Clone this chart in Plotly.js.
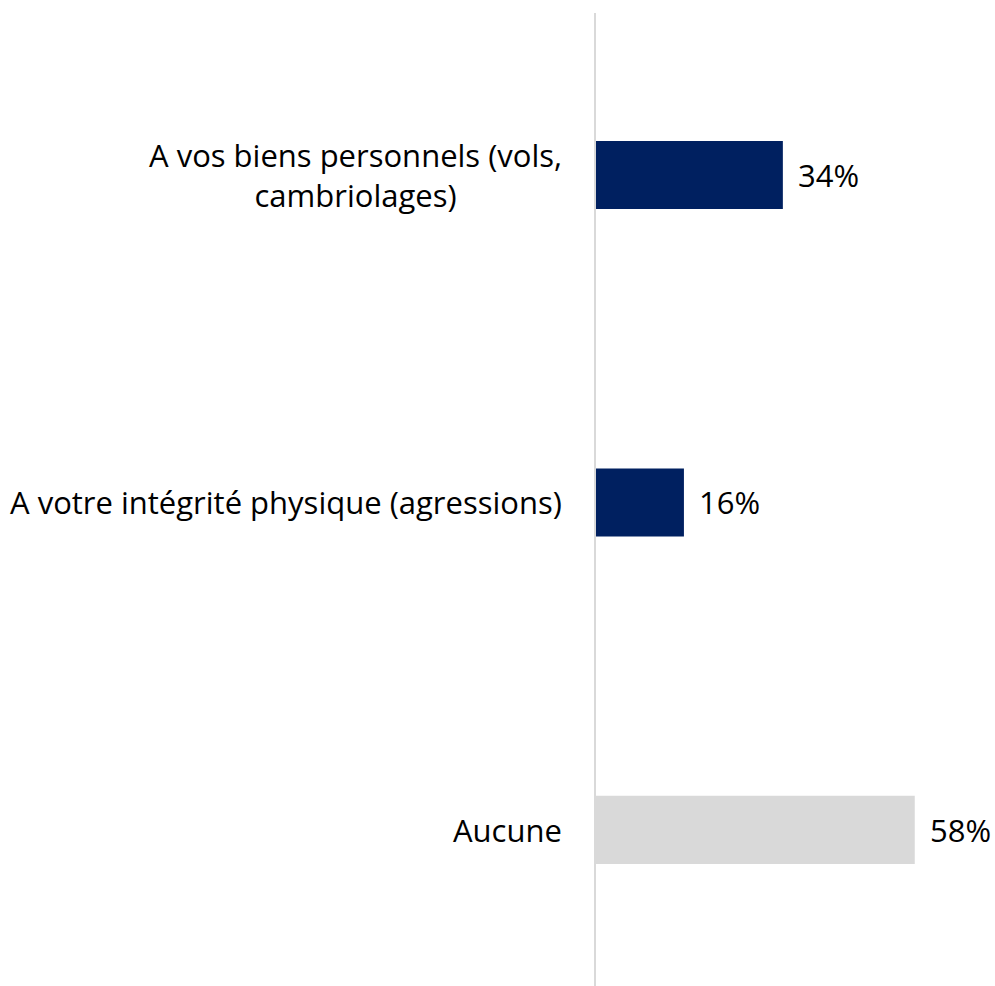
<!DOCTYPE html>
<html>
<head>
<meta charset="utf-8">
<script src="https://cdn.plot.ly/plotly-3.0.1.min.js"></script>
<style>html,body{margin:0;padding:0;background:#fff;}#chart{width:995px;height:986px;}</style>
</head>
<body>
<div id="chart"></div>
<script>
const categories = ["A vos biens personnels (vols,<br>cambriolages)", "A votre intégrité physique (agressions)", "Aucune"];
const values = [34, 16, 58];
const valueLabels = ["34%", "16%", "58%"];
const barColors = ["#002060", "#002060", "#D9D9D9"];

const FONT = "'Open Sans', sans-serif";
const FS = 31;

const trace = {
  type: "bar",
  orientation: "h",
  y: categories,
  x: values,
  marker: {color: barColors},
  width: 0.208,
  hoverinfo: "none"
};

const annotations = [];
categories.forEach((c, i) => {
  annotations.push({
    xref: "paper", yref: "y", x: 0, y: c, xanchor: "right", yanchor: "middle",
    xshift: -32, text: c, align: "center", showarrow: false,
    font: {family: FONT, size: FS, color: "#000"}
  });
  annotations.push({
    xref: "x", yref: "y", x: values[i], y: c, xanchor: "left", yanchor: "middle",
    xshift: 13, text: valueLabels[i], showarrow: false,
    font: {family: FONT, size: FS, color: "#000"}
  });
});

const layout = {
  width: 995,
  height: 986,
  margin: {l: 596, r: 0, t: 13, b: 0, pad: 0},
  paper_bgcolor: "#fff",
  plot_bgcolor: "#fff",
  showlegend: false,
  xaxis: {range: [0, 72.6], visible: false, showgrid: false, zeroline: false},
  yaxis: {
    range: [2.477, -0.495],
    showgrid: false,
    zeroline: false,
    showline: true,
    linecolor: "#D9D9D9",
    linewidth: 2,
    ticks: "",
    showticklabels: false,
    automargin: false
  },
  annotations: annotations,
  font: {family: FONT}
};

Plotly.newPlot("chart", [trace], layout, {displayModeBar: false, staticPlot: true});
</script>
</body>
</html>
